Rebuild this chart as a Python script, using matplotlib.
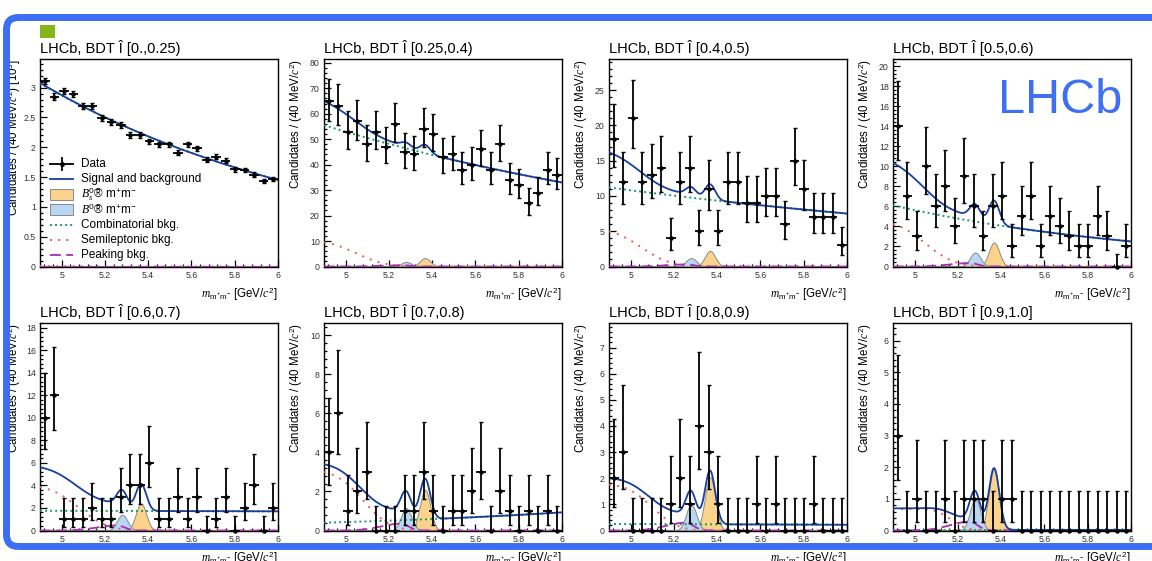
import math
import numpy as np
import matplotlib
matplotlib.use("Agg")
import matplotlib.pyplot as plt
from matplotlib.ticker import MultipleLocator, AutoMinorLocator, FuncFormatter
from matplotlib.patches import FancyBboxPatch, Rectangle
from matplotlib.lines import Line2D
from matplotlib.transforms import IdentityTransform

plt.rcParams['font.family'] = ['Liberation Sans', 'DejaVu Sans']
plt.rcParams['mathtext.fontset'] = 'custom'
plt.rcParams['mathtext.rm'] = 'Liberation Sans'
plt.rcParams['mathtext.it'] = 'Liberation Serif:italic'
plt.rcParams['mathtext.bf'] = 'Liberation Sans:bold'
plt.rcParams['mathtext.tt'] = 'Liberation Mono'

# ---------------- data ----------------
mass_range = (4.9, 6.0)
n_bins = 25

bdt_bins = ["[0.,0.25)", "[0.25,0.4)", "[0.4,0.5)", "[0.5,0.6)",
            "[0.6,0.7)", "[0.7,0.8)", "[0.8,0.9)", "[0.9,1.0]"]

# candidates per bin (first panel in units of 10^3)
counts_bdt_0 = [3.11, 2.85, 2.94, 2.89, 2.69, 2.69, 2.49, 2.42, 2.37, 2.21, 2.21, 2.10, 2.05,
                2.05, 1.91, 2.05, 1.98, 1.79, 1.84, 1.77, 1.63, 1.62, 1.54, 1.43, 1.47]
counts_bdt_1 = [65, 63, 53, 57, 48, 53, 47, 56, 45, 44, 54, 52, 43, 44, 38, 40, 46, 38, 48,
                34, 32, 25, 29, 38, 36]
counts_bdt_2 = [18, 12, 21, 12, 13, 14, 4, 12, 14, 5, 11, 5, 12, 12, 9, 9, 10, 10, 6, 15, 11,
                7, 7, 7, 3]
counts_bdt_3 = [14, 7, 3, 10, 6, 8, 4, 9, 6, 3, 6, 7, 2, 5, 7, 2, 5, 4, 3, 2, 2, 5, 3, 0, 2]
counts_bdt_4 = [10, 12, 1, 1, 1, 2, 1, 1, 3, 4, 4, 6, 1, 1, 3, 1, 3, 0, 1, 3, 0, 2, 4, 0, 2]
counts_bdt_5 = [4, 6, 1, 2, 3, 0, 0, 0, 1, 1, 3, 1, 0, 1, 1, 2, 3, 0, 2, 1, 0, 1, 0, 1, 0]
counts_bdt_6 = [2, 3, 0, 0, 0, 0, 1, 2, 1, 4, 3, 1, 0, 0, 0, 1, 0, 1, 0, 0, 0, 1, 0, 0, 0]
counts_bdt_7 = [3, 0, 1, 0, 0, 1, 0, 1, 1, 1, 0, 1, 1, 0, 0, 0, 0, 0, 0, 0, 0, 0, 0, 0, 0]
all_counts = [counts_bdt_0, counts_bdt_1, counts_bdt_2, counts_bdt_3,
              counts_bdt_4, counts_bdt_5, counts_bdt_6, counts_bdt_7]
count_scale = [1000, 1, 1, 1, 1, 1, 1, 1]

# fit components per panel
comb_at_low = [3.07, 55.5, 11.2, 6.1, 1.75, 0.40, 0.25, 0.02]
comb_at_high = [1.45, 33.0, 7.5, 2.5, 1.70, 0.93, 0.22, 0.02]
semilep_amp = [0.01, 10.3, 5.4, 4.6, 4.03, 3.1, 1.78, 0.68]
semilep_edge = [5.05, 5.05, 5.05, 5.05, 5.08, 5.08, 5.10, 5.17]
semilep_width = [0.15, 0.15, 0.15, 0.15, 0.15, 0.14, 0.13, 0.08]
peaking_amp = [0.0, 0.5, 0.3, 0.35, 0.45, 0.35, 0.3, 0.28]
b0_amp = [0.0, 1.8, 1.2, 1.4, 1.4, 1.15, 1.0, 1.0]
bs_amp = [0.0, 3.3, 2.2, 2.4, 2.4, 2.08, 2.05, 1.95]

ylims = [3.48, 81.5, 29.4, 20.7, 18.4, 10.63, 7.94, 6.56]
ymajor = [0.5, 10, 5, 2, 2, 2, 1, 1]

legend_labels = ["Data", "Signal and background",
                 r"$B^0_s$" + r"® m$^{+}$m$^{-}$",
                 r"$B^0$" + r"® m$^{+}$m$^{-}$",
                 "Combinatorial bkg.", "Semileptonic bkg.", "Peaking bkg."]

# ---------------- styles ----------------
C_TOTAL = '#183f9c'
C_COMB = '#1a9a60'
C_SL = '#ee5a5a'
C_PEAK = '#a62fb0'
C_BS = '#fbd38c'
C_B0 = '#b9d6f2'
FRAME = '#3b6ef3'

erfc = np.vectorize(math.erfc)

W, H = 1152, 561
fig = plt.figure(figsize=(W / 100, H / 100), dpi=100)

col_left = [40, 324, 609, 893]
col_w = 238
row_top = [59, 323]
row_h = 207.5

edges = np.linspace(mass_range[0], mass_range[1], n_bins + 1)
centers = 0.5 * (edges[1:] + edges[:-1])
halfw = 0.5 * (edges[1] - edges[0])
xs = np.linspace(mass_range[0], mass_range[1], 800)


def poisson_errors(n, scale):
    n = np.asarray(n, float) * scale
    if scale > 1:
        e = np.sqrt(n)
        return e / scale, e / scale
    lo = np.where(n > 0, np.minimum(np.sqrt(n + 0.25) - 0.4, n), 0.0)
    hi = np.sqrt(n + 0.25) + 0.75
    return lo, hi


for i in range(8):
    r, c = divmod(i, 4)
    l = col_left[c] / W
    b = 1 - (row_top[r] + row_h) / H
    ax = fig.add_axes([l, b, col_w / W, row_h / H])

    # components
    comb = comb_at_low[i] * (comb_at_high[i] / comb_at_low[i]) ** ((xs - mass_range[0]) / (mass_range[1] - mass_range[0]))
    sl = semilep_amp[i] * 0.5 * erfc((xs - semilep_edge[i]) / semilep_width[i])
    pk = peaking_amp[i] * np.where(xs < 5.255, np.exp(-0.5 * ((xs - 5.255) / 0.09) ** 2),
                                   np.exp(-0.5 * ((xs - 5.255) / 0.035) ** 2))
    b0 = b0_amp[i] * np.exp(-0.5 * ((xs - 5.28) / 0.024) ** 2)
    bs = bs_amp[i] * np.exp(-0.5 * ((xs - 5.367) / 0.024) ** 2)
    total = comb + sl + pk + b0 + bs

    ax.fill_between(xs, 0, bs, facecolor=C_BS, edgecolor='#8a8a8a', lw=0.7, zorder=2)
    ax.fill_between(xs, 0, b0, facecolor=C_B0, edgecolor='#8a8a8a', lw=0.7, zorder=2)
    ax.plot(xs, comb, color=C_COMB, lw=1.4, ls=(0, (1, 1.6)), zorder=3)
    ax.plot(xs, sl, color=C_SL, lw=1.4, ls=(0, (1, 3.2)), zorder=3)
    ax.plot(xs, pk, color=C_PEAK, lw=1.3, ls=(0, (6, 3)), zorder=3)
    ax.plot(xs, total, color=C_TOTAL, lw=1.3, zorder=4)

    y = np.asarray(all_counts[i], float)
    lo, hi = poisson_errors(y, count_scale[i])
    ax.errorbar(centers, y, yerr=[lo, hi], fmt='none', ecolor='black', elinewidth=1.3,
                capsize=1.3, capthick=1.0, zorder=5, clip_on=False)
    ax.errorbar(centers, y, xerr=halfw, fmt='o', ms=2.2, color='black',
                ecolor='black', elinewidth=1.3, capsize=0, zorder=5, clip_on=False)

    ax.set_xlim(*mass_range)
    ax.set_ylim(0, ylims[i])
    ax.xaxis.set_major_locator(MultipleLocator(0.2))
    ax.xaxis.set_minor_locator(AutoMinorLocator(5))
    ax.yaxis.set_major_locator(MultipleLocator(ymajor[i]))
    ax.yaxis.set_minor_locator(AutoMinorLocator(5))
    ax.xaxis.set_major_formatter(FuncFormatter(lambda v, p: f"{v:g}"))
    ax.yaxis.set_major_formatter(FuncFormatter(lambda v, p: f"{v:g}"))
    ax.tick_params(which='both', direction='in', top=False, right=False,
                   labelsize=6.3, labelcolor='#333333', width=0.9)
    ax.tick_params(which='major', length=5, pad=3)
    ax.tick_params(which='minor', length=2.5)
    for s in ax.spines.values():
        s.set_linewidth(1.0)

    ax.set_title("LHCb, BDT Î " + bdt_bins[i], loc='left', fontsize=10.5, pad=4)
    ylab = r"Candidates / (40 MeV/$c^2$)"
    if i == 0:
        ylab += r" [10$^3$]"
    ax.set_ylabel(ylab, fontsize=8.3, loc='top')
    ax.yaxis.set_label_coords(-17 / col_w if c == 0 else -19 / col_w, 1.0)
    ax.set_xlabel(r"$m_{\mathrm{m^{+}m^{-}}}$ [GeV/$c^{2}$]", fontsize=8.3, loc='right')
    ax.xaxis.set_label_coords(1.0, -19 / row_h)

    if i == 0:
        x0, x1, xt = 10 / col_w, 33 / col_w, 41 / col_w
        for k, lab in enumerate(legend_labels):
            yy = (row_h + row_top[0] - (164 + 15.2 * k)) / row_h
            if k == 0:
                ax.add_line(Line2D([x0, x1], [yy, yy], color='black', lw=1.3, transform=ax.transAxes))
                ax.add_line(Line2D([(x0 + x1) / 2] * 2, [yy - 0.03, yy + 0.03], color='black',
                                   lw=1.3, transform=ax.transAxes))
                ax.add_line(Line2D([(x0 + x1) / 2], [yy], marker='o', ms=2.5, color='black',
                                   transform=ax.transAxes))
            elif k == 1:
                ax.add_line(Line2D([x0, x1], [yy, yy], color=C_TOTAL, lw=1.3, transform=ax.transAxes))
            elif k in (2, 3):
                fc = C_BS if k == 2 else C_B0
                ax.add_patch(Rectangle((x0, yy - 0.025), x1 - x0, 0.05, facecolor=fc,
                                       edgecolor='#8a8a8a', lw=0.7, transform=ax.transAxes))
            elif k == 4:
                ax.add_line(Line2D([x0, x1], [yy, yy], color=C_COMB, lw=1.4, ls=(0, (1, 1.6)),
                                   transform=ax.transAxes))
            elif k == 5:
                ax.add_line(Line2D([x0, x1], [yy, yy], color=C_SL, lw=1.4, ls=(0, (1, 3.2)),
                                   transform=ax.transAxes))
            else:
                ax.add_line(Line2D([x0, x1], [yy, yy], color=C_PEAK, lw=1.3, ls=(0, (6, 3)),
                                   transform=ax.transAxes))
            ax.text(xt, yy, lab, transform=ax.transAxes, fontsize=8.5, va='center', ha='left')

# big LHCb label
fig.text(998 / W, 1 - 113 / H, "LHCb", fontsize=35, color='#3d70f2', ha='left', va='baseline')

# green square
fig.add_artist(Rectangle((40, H - 38), 15, 13, facecolor='#84b71c', edgecolor='none',
                         transform=IdentityTransform(), zorder=10))

# blue rounded frame
frame = FancyBboxPatch((6.5, H - 546.5), 1180, 529, boxstyle="round,pad=0,rounding_size=12",
                       facecolor='none', edgecolor=FRAME, lw=5.0, transform=IdentityTransform(),
                       zorder=20)
fig.add_artist(frame)

fig.savefig("out.png", dpi=100)
